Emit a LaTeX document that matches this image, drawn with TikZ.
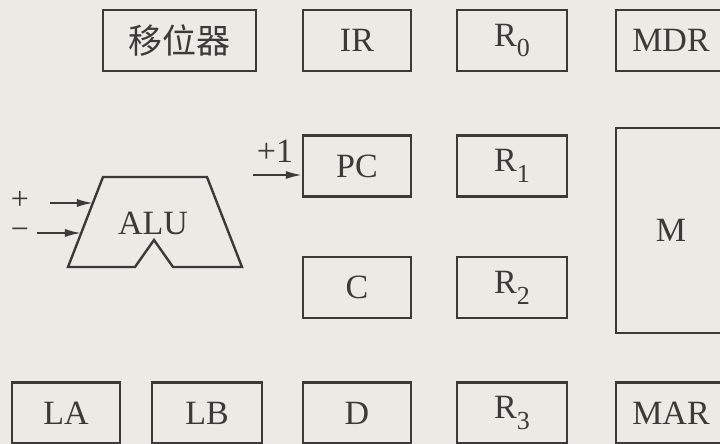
\documentclass[tikz,border=0pt]{standalone}
\usepackage{fontspec}
\setmainfont{Liberation Serif}
\newfontfamily\cjk{Noto Sans CJK SC}
\usetikzlibrary{arrows.meta,positioning}
\definecolor{paper}{HTML}{ECEAE5}
\definecolor{ink}{HTML}{3C3936}
\newcommand{\regsub}[1]{\raisebox{-0.7ex}{\fontsize{13}{15}\selectfont #1}}

\begin{document}
\begin{tikzpicture}[
  x=0.5pt,y=-0.5pt,
  every node/.style={font=\fontsize{17}{20}\selectfont,text=ink},
  reg/.style={draw=ink,line width=1.2pt,inner sep=0pt,minimum width=54pt,minimum height=30.5pt},
  sign/.style={inner sep=0pt,font=\fontsize{16}{18}\selectfont},
  arr/.style={-{Latex[length=8pt,width=4pt]},draw=ink,line width=0.9pt}
]
\useasboundingbox (0,0) rectangle (720,444);
\fill[paper] (0,0) rectangle (720,444);
\clip (0,0) rectangle (720,444);
% top row
\node[reg,minimum width=76.5pt] (shift) at (179.5,40.5) {\cjk 移位器};
\node[reg] (ir) at (357,40.5) {IR};
\node[reg,minimum width=55pt] (r0) at (512,40.5) {R\regsub{0}};
\node[reg,minimum width=55pt] (mdr) at (671,40.5) {MDR};
% middle
\node[reg] (pc) at (357,166) {PC};
\node[reg,minimum width=55pt] (r1) at (512,166) {R\regsub{1}};
\node[reg] (c) at (357,287.5) {C};
\node[reg,minimum width=55pt] (r2) at (512,287.5) {R\regsub{2}};
\node[reg,minimum width=55pt,minimum height=102.5pt] (m) at (671,230.5) {M};
% bottom row
\node[reg] (la) at (66,413) {LA};
\node[reg,minimum width=55pt] (lb) at (207,413) {LB};
\node[reg] (d) at (357,413) {D};
\node[reg,minimum width=55pt] (r3) at (512,413) {R\regsub{3}};
\node[reg,minimum width=55pt] (mar) at (671,413) {MAR};
% ALU
\draw[ink,line width=1.2pt,line join=miter]
  (103,177) -- (207,177) -- (242,267) -- (173,267) -- (154,240)
  -- (135,267) -- (68,267) -- cycle;
\node (alu) at (153,223) {ALU};
\coordinate (plusin) at (93,203);
\coordinate (minusin) at (81,233);
\coordinate (plusst) at (50,203);
\coordinate (minusst) at (37,233);
\node[sign] (plus) at (20,200) {+};
\node[sign] (minus) at (20,234) {\textminus};
\draw[arr] (plusst) -- (plusin);
\draw[arr] (minusst) -- (minusin);
% PC increment
\node[inner sep=0pt] (inc) at (275,151) {+1};
\coordinate (incst) at (253,175);
\draw[arr] (incst) -- (incst -| pc.west);
\end{tikzpicture}
\end{document}
